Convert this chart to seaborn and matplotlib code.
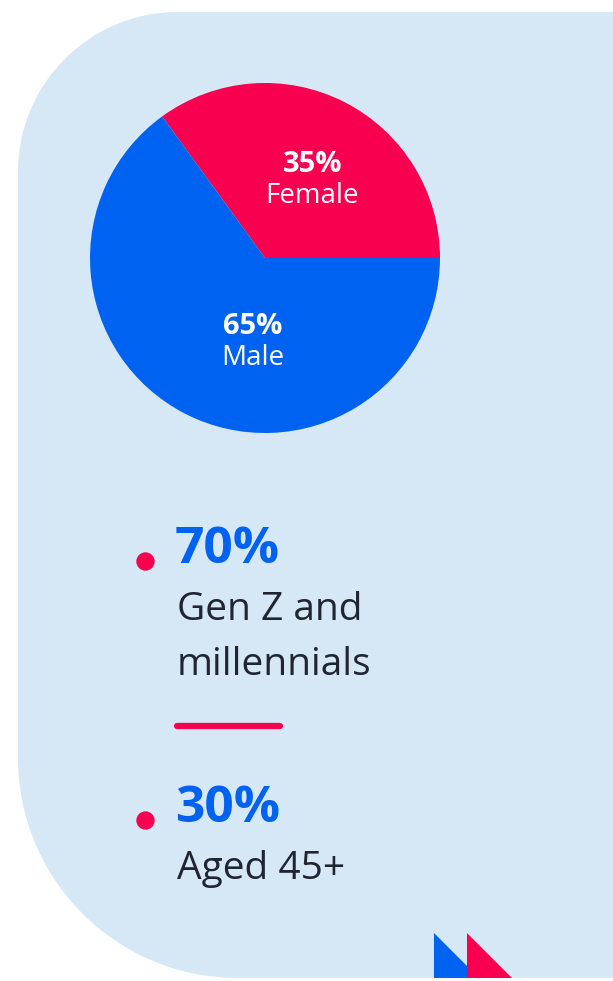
import matplotlib
matplotlib.use("Agg")
import matplotlib.pyplot as plt
import matplotlib.patches as mpatches
from matplotlib.path import Path
import seaborn as sns

sns.set_theme(style="white")
plt.rcParams["font.family"] = ["Open Sans", "DejaVu Sans"]

# data
genders = ["Female", "Male"]
gender_share = [35, 65]
age_groups = [["Gen Z and", "millennials"], ["Aged 45+"]]
age_share = [70, 30]

RED = "#F7004F"
BLUE = "#0062F1"
BG = "#D6E8F6"
DARK = "#1F2632"

W, H = 613, 981
fig = plt.figure(figsize=(W / 100, H / 100), dpi=100)
fig.patch.set_facecolor("white")

# full-figure axes in pixel coordinates
bg = fig.add_axes([0, 0, 1, 1])
bg.set_xlim(0, W)
bg.set_ylim(H, 0)
bg.axis("off")

# rounded panel (large corners on the left side only)
left, top, right, bottom = 18, 12, W + 5, 978
r1, r2 = 160, 220
k = 0.5523
verts = [
    (left + r1, top), (right, top), (right, bottom), (left + r2, bottom),
    (left + r2 - k * r2, bottom), (left, bottom - r2 + k * r2), (left, bottom - r2),
    (left, top + r1),
    (left, top + r1 - k * r1), (left + r1 - k * r1, top), (left + r1, top),
    (left + r1, top),
]
codes = [Path.MOVETO, Path.LINETO, Path.LINETO, Path.LINETO,
         Path.CURVE4, Path.CURVE4, Path.CURVE4,
         Path.LINETO,
         Path.CURVE4, Path.CURVE4, Path.CURVE4,
         Path.CLOSEPOLY]
bg.add_patch(mpatches.PathPatch(Path(verts, codes), facecolor=BG, edgecolor="none"))

# decorative triangles at the bottom
bg.add_patch(mpatches.Polygon([(434, 933), (434, 978), (479, 978)], closed=True,
                              facecolor=BLUE, edgecolor="none"))
bg.add_patch(mpatches.Polygon([(467, 933), (467, 978), (512, 978)], closed=True,
                              facecolor=RED, edgecolor="none"))

# pie chart
cx, cy, rad = 265, 258, 175
pax = fig.add_axes([(cx - rad) / W, (H - cy - rad) / H, 2 * rad / W, 2 * rad / H])
pax.pie(gender_share, colors=[RED, BLUE], startangle=0, counterclock=True,
        wedgeprops=dict(linewidth=0))
pax.set_xlim(-1, 1)
pax.set_ylim(-1, 1)
pax.set_aspect("auto")
pax.axis("off")

label_pos = [(0.27, 0.49), (-0.07, -0.435)]
for name, share, (lx, ly) in zip(genders, gender_share, label_pos):
    pax.text(lx, ly, f"{share}%", color="white", fontsize=21, fontweight="bold",
             ha="center", va="baseline")
    pax.text(lx, ly - 0.175, name, color="white", fontsize=20,
             ha="center", va="baseline")

# age stats
stat_y = [563, 822]
for lines, share, y in zip(age_groups, age_share, stat_y):
    bg.scatter([145], [y - 2], s=175, color=RED, linewidths=0, zorder=3)
    bg.text(175, y, f"{share}%", color=BLUE, fontsize=37, fontweight="bold",
            ha="left", va="baseline")
    for i, line in enumerate(lines):
        bg.text(177, y + 57 + 55 * i, line, color=DARK, fontsize=28,
                ha="left", va="baseline")

# red divider
bg.plot([177, 280], [726, 726], color=RED, lw=4.5, solid_capstyle="round")

fig.savefig("out.png", dpi=100, facecolor="white")
